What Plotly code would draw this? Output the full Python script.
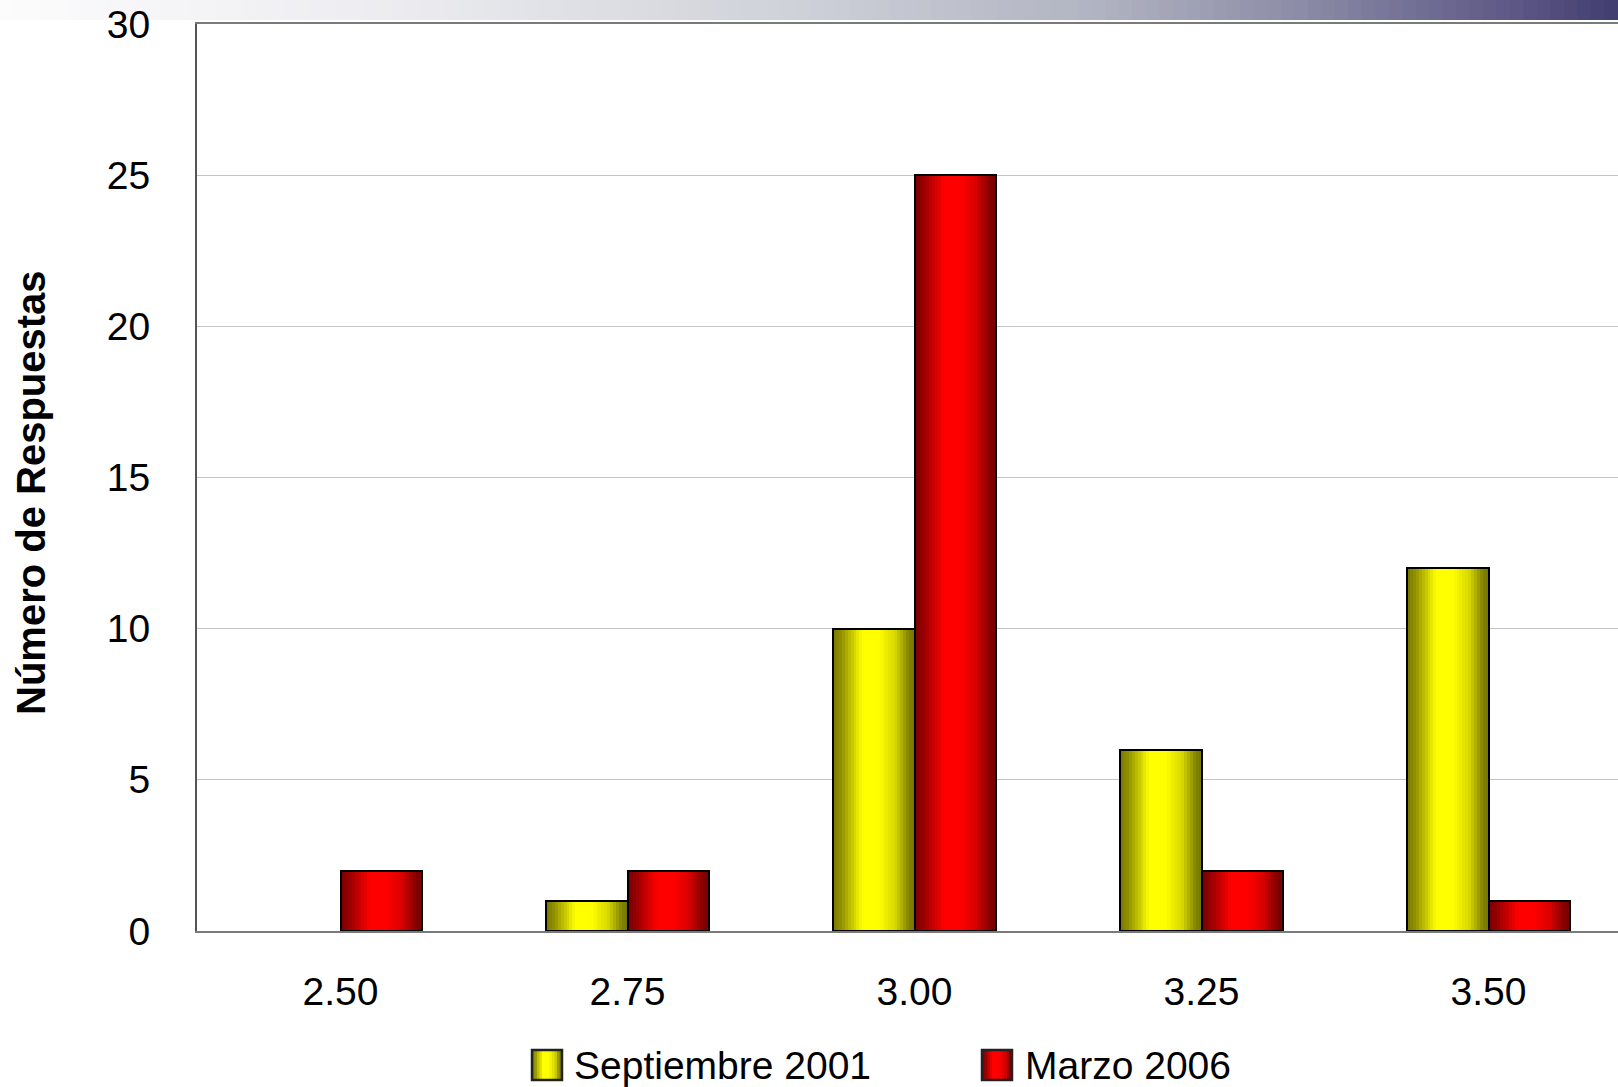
import plotly.graph_objects as go

# ---------------- data ----------------
categories = ["2.50", "2.75", "3.00", "3.25", "3.50"]
sept_2001 = [0, 1, 10, 6, 12]
marzo_2006 = [2, 2, 25, 2, 1]
series_names = ["Septiembre 2001", "Marzo 2006"]
y_ticks = [0, 5, 10, 15, 20, 25, 30]
y_title = "Número de Respuestas"

# ---------------- style ----------------
W, H = 1618, 1087
ML, MR, MT, MB = 197, 0, 24, 156
PW, PH = W - ML - MR, H - MT - MB
FONT = "Liberation Sans, Arial, sans-serif"

BAR_W = 0.283
N_STRIPS = 28
yellow_dark, yellow_bright = (118, 118, 0), (255, 255, 0)
red_dark, red_bright = (120, 0, 0), (255, 0, 0)
profile = [(0.0, 0.0), (0.1, 0.2), (0.36, 1.0), (0.55, 1.0), (0.76, 0.72), (0.93, 0.08), (1.0, 0.0)]


def intensity(t):
    for (t0, v0), (t1, v1) in zip(profile[:-1], profile[1:]):
        if t0 <= t <= t1:
            return v0 + (v1 - v0) * (t - t0) / (t1 - t0)
    return 0.0


def mix(dark, bright, f):
    return "rgb(%d,%d,%d)" % tuple(round(d + (b - d) * f) for d, b in zip(dark, bright))


def px_x(X):
    return (X - ML) / PW


def px_y(Y):
    return (H - MB - Y) / PH


fig = go.Figure()

series = [
    (series_names[0], sept_2001, yellow_dark, yellow_bright, -BAR_W),
    (series_names[1], marzo_2006, red_dark, red_bright, 0.0),
]

step = BAR_W / N_STRIPS
for name, vals, dark, bright, base in series:
    for i in range(N_STRIPS):
        off = base + i * step
        w = min(step * 1.6, base + BAR_W - off)
        t = (i + 0.5) / N_STRIPS
        fig.add_trace(go.Bar(
            x=categories, y=vals, offset=off, width=w,
            marker=dict(color=mix(dark, bright, intensity(t)), line=dict(width=0)),
            showlegend=False, hoverinfo="skip",
        ))
    # outline (no outline for empty bars)
    fig.add_trace(go.Bar(
        x=categories, y=vals, offset=base, width=BAR_W, name=name,
        marker=dict(color="rgba(0,0,0,0)",
                    line=dict(color="black", width=[2 if v > 0 else 0 for v in vals])),
        showlegend=False, hoverinfo="x+y+name",
    ))

shapes = []
annotations = []

# top gradient banner
banner_stops = [(0, (252, 252, 253)), (400, (236, 236, 240)), (800, (206, 209, 216)),
                (1100, (176, 179, 193)), (1300, (140, 140, 166)), (1500, (96, 91, 136)),
                (1618, (66, 61, 112))]


def banner_color(X):
    for (x0, c0), (x1, c1) in zip(banner_stops[:-1], banner_stops[1:]):
        if x0 <= X <= x1:
            f = (X - x0) / (x1 - x0)
            return "rgb(%d,%d,%d)" % tuple(round(a + (b - a) * f) for a, b in zip(c0, c1))
    return "rgb(66,61,112)"


NB = 120
for i in range(NB):
    X0 = W * i / NB
    X1 = W * (i + 1) / NB + 1
    shapes.append(dict(type="rect", xref="paper", yref="paper",
                       x0=px_x(X0), x1=px_x(X1), y0=px_y(20), y1=px_y(0),
                       fillcolor=banner_color((X0 + X1) / 2), line=dict(width=0), layer="below"))

# manual legend
legend_items = [
    (series_names[0], yellow_dark, yellow_bright, 532, 572),
    (series_names[1], red_dark, red_bright, 982, 1023),
]
SW = 30
for name, dark, bright, sx, tx in legend_items:
    n = 12
    for i in range(n):
        t = (i + 0.5) / n
        shapes.append(dict(type="rect", xref="paper", yref="paper",
                           x0=px_x(sx + SW * i / n), x1=px_x(sx + SW * (i + 1) / n + 0.6),
                           y0=px_y(1080), y1=px_y(1050),
                           fillcolor=mix(dark, bright, intensity(t)), line=dict(width=0)))
    shapes.append(dict(type="rect", xref="paper", yref="paper",
                       x0=px_x(sx), x1=px_x(sx + SW), y0=px_y(1080), y1=px_y(1050),
                       fillcolor="rgba(0,0,0,0)", line=dict(color="#222", width=2.5)))
    annotations.append(dict(text=name, xref="paper", yref="paper", x=px_x(tx), y=px_y(1065),
                            xanchor="left", yanchor="middle", showarrow=False,
                            font=dict(family=FONT, size=39, color="black")))

# y-axis title
annotations.append(dict(text=y_title, xref="paper", yref="paper", x=px_x(31), y=px_y(493),
                        xanchor="center", yanchor="middle", textangle=-90, showarrow=False,
                        font=dict(family=FONT, size=40, color="black", weight="bold")))

fig.update_layout(
    width=W, height=H,
    margin=dict(l=ML, r=MR, t=MT, b=MB, autoexpand=False),
    paper_bgcolor="white", plot_bgcolor="white",
    barmode="overlay", bargap=0,
    showlegend=False,
    font=dict(family=FONT, size=39, color="black"),
    shapes=shapes, annotations=annotations,
    xaxis=dict(
        type="category", categoryarray=categories, categoryorder="array",
        range=[-0.5, -0.5 + PW / 287.0],
        showgrid=False, zeroline=False,
        showline=True, linecolor="#7a7a7a", linewidth=2, mirror=True,
        ticks="", ticklabelstandoff=25,
        tickfont=dict(family=FONT, size=39, color="black"),
    ),
    yaxis=dict(
        range=[0, 30], tickvals=y_ticks,
        showgrid=True, gridcolor="#c4c4c4", gridwidth=1,
        zeroline=False,
        showline=True, linecolor="#555555", linewidth=2,
        ticks="", ticklabelstandoff=37,
        tickfont=dict(family=FONT, size=39, color="black"),
    ),
)

fig.write_html("out.html")
